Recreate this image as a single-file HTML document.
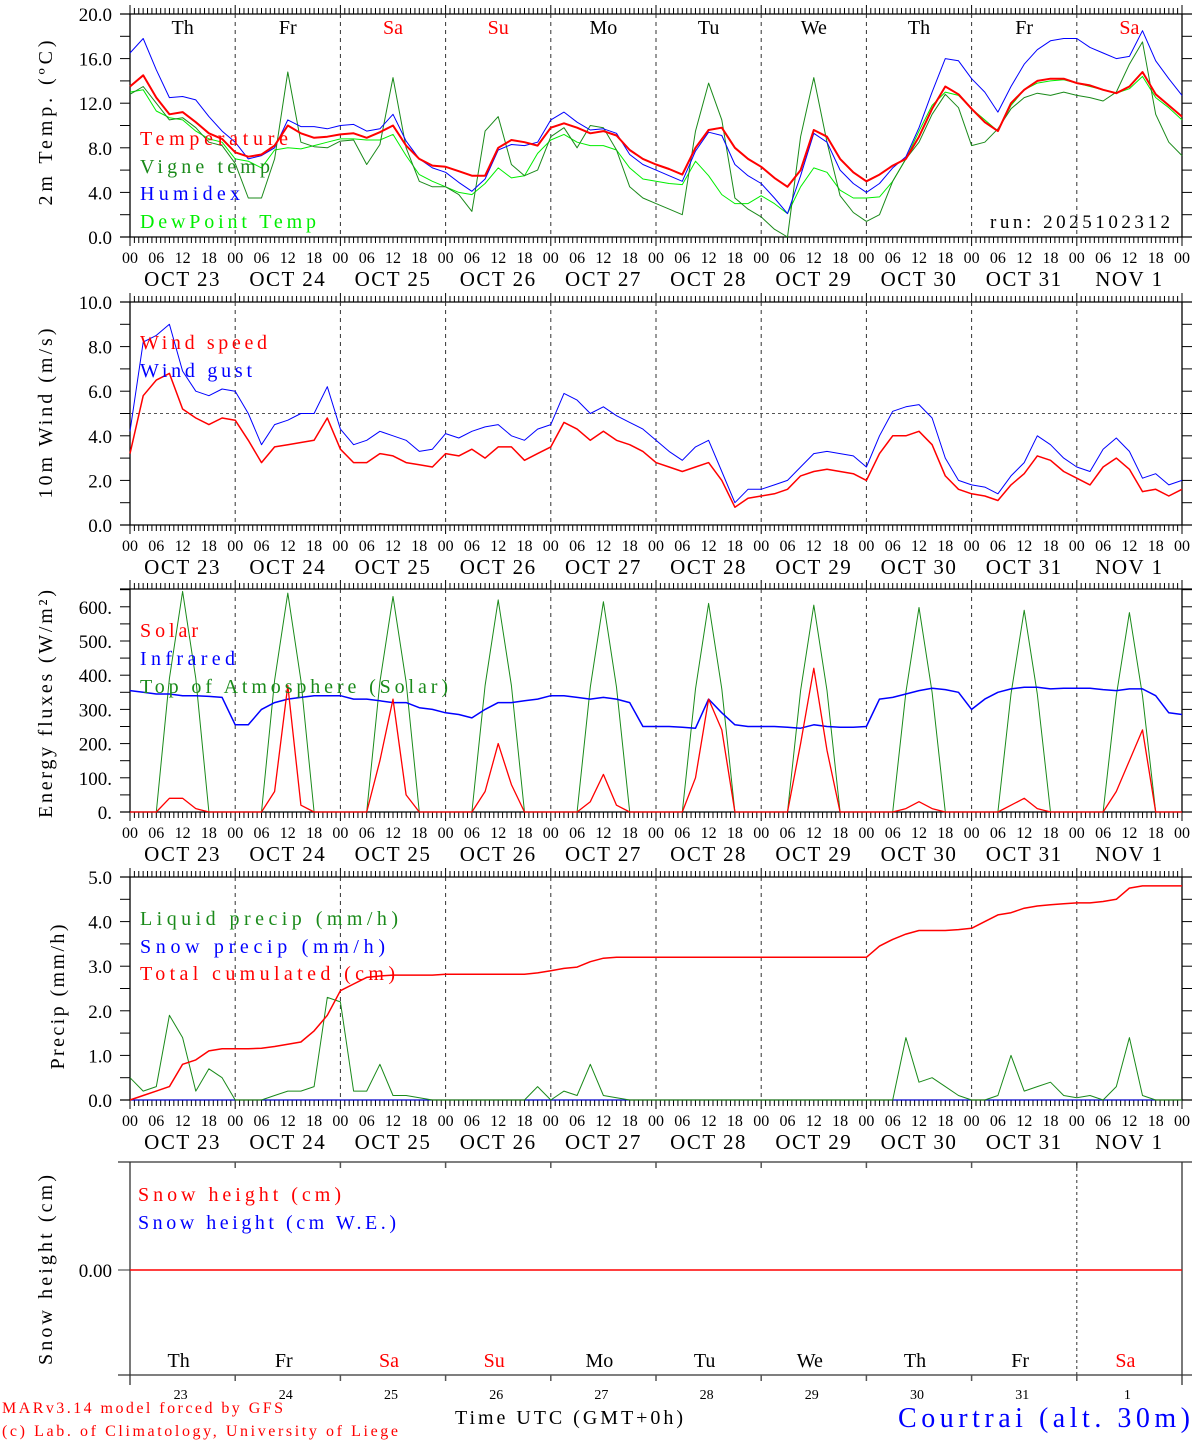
<!DOCTYPE html>
<html><head><meta charset="utf-8"><style>
html,body{margin:0;padding:0;background:#fff;}
svg{display:block;font-family:"Liberation Serif","DejaVu Serif",serif;}
</style></head><body>
<svg id="chart" width="1194" height="1440" viewBox="0 0 1194 1440" xmlns="http://www.w3.org/2000/svg"></svg>
<script>
// ---- data (3-hourly, Oct 23 00 UTC to Nov 2 00 UTC) ----
const dayNames=["Th","Fr","Sa","Su","Mo","Tu","We","Th","Fr","Sa"];
const dateLabels=["OCT 23","OCT 24","OCT 25","OCT 26","OCT 27","OCT 28","OCT 29","OCT 30","OCT 31","NOV  1"];
const dayNums=["23","24","25","26","27","28","29","30","31","1"];
const hourLabels=["00","06","12","18"];
const temp=[13.5,14.5,12.5,11.0,11.2,10.3,9.3,8.8, 7.6,7.2,7.4,8.2,10.0,9.3,8.9,9.0, 9.2,9.3,8.9,9.4,10.0,8.2,7.0,6.4, 6.3,5.9,5.5,5.5,8.0,8.7,8.5,8.2, 9.8,10.2,9.8,9.3,9.5,9.1,7.8,7.0, 6.5,6.1,5.6,8.0,9.6,9.8,8.0,7.0, 6.3,5.3,4.5,6.0,9.6,9.0,7.0,5.8, 5.0,5.6,6.4,7.0,9.0,11.5,13.5,12.8, 11.5,10.3,9.5,12.0,13.2,14.0,14.2,14.2, 13.8,13.6,13.2,12.9,13.5,14.8,12.8,11.8,10.8];
const vigne=[12.8,13.5,12.0,10.5,10.7,9.8,8.5,8.2, 6.6,3.5,3.5,7.0,14.8,8.5,8.1,8.0, 8.6,8.7,6.5,8.3,14.3,8.0,5.0,4.5, 4.5,3.8,2.3,9.5,10.8,6.5,5.5,6.0, 9.0,9.8,8.0,10.0,9.8,7.8,4.5,3.5, 3.0,2.5,2.0,9.5,13.8,10.5,3.5,2.5, 1.8,0.7,0.0,9.0,14.3,8.5,3.7,2.2, 1.4,2.0,5.0,7.0,8.5,11.0,12.8,11.6, 8.2,8.5,9.7,11.5,12.5,12.9,12.7,13.0, 12.7,12.5,12.2,13.0,15.5,17.5,11.0,8.5,7.3];
const humidex=[16.5,17.8,15.0,12.5,12.6,12.3,10.8,9.5, 8.5,7.0,7.3,8.0,10.5,9.9,9.9,9.7, 10.0,10.1,9.5,9.7,11.0,8.6,7.0,6.2, 5.8,4.9,4.1,5.2,7.8,8.3,8.2,8.5, 10.5,11.2,10.3,9.6,9.7,9.3,7.4,6.5, 6.0,5.5,5.0,7.7,9.4,9.1,6.5,5.5, 4.8,3.5,2.1,5.5,9.3,8.5,6.0,4.8, 4.0,4.8,6.2,7.2,9.8,13.0,16.0,15.8, 14.2,13.0,11.2,13.5,15.5,16.8,17.6,17.8, 17.8,17.0,16.5,16.0,16.2,18.5,15.8,14.2,12.7];
const dewpoint=[13.0,13.2,11.3,10.7,10.5,9.5,8.8,8.5, 7.0,6.8,6.2,7.8,8.0,7.9,8.2,8.5, 8.8,8.8,8.7,8.7,9.2,7.3,5.6,5.0, 4.5,4.0,3.8,4.8,6.2,5.3,5.5,7.5, 8.7,9.2,8.5,8.2,8.2,7.8,6.2,5.2, 5.0,4.8,4.7,6.8,5.5,3.8,3.0,3.0, 3.7,3.0,2.1,4.5,6.2,5.8,4.2,3.5, 3.5,3.6,5.0,7.0,9.5,11.8,13.0,12.7, 11.5,10.5,9.5,11.8,13.2,13.8,14.0,14.1, 13.8,13.5,13.2,12.9,13.3,14.4,12.5,11.6,10.5];
const windSpeed=[3.2,5.8,6.5,6.8,5.2,4.8,4.5,4.8, 4.7,3.8,2.8,3.5,3.6,3.7,3.8,4.8, 3.4,2.8,2.8,3.2,3.1,2.8,2.7,2.6, 3.2,3.1,3.4,3.0,3.5,3.5,2.9,3.2, 3.5,4.6,4.3,3.8,4.2,3.8,3.6,3.3, 2.8,2.6,2.4,2.6,2.8,2.0,0.8,1.2, 1.3,1.4,1.6,2.2,2.4,2.5,2.4,2.3, 2.0,3.2,4.0,4.0,4.2,3.6,2.2,1.6, 1.4,1.3,1.1,1.8,2.3,3.1,2.9,2.4, 2.1,1.8,2.6,3.0,2.5,1.5,1.6,1.3,1.6];
const windGust=[4.2,8.2,8.5,9.0,6.9,6.0,5.8,6.1, 6.0,5.0,3.6,4.5,4.7,5.0,5.0,6.2, 4.3,3.6,3.8,4.2,4.0,3.8,3.3,3.4, 4.1,3.9,4.2,4.4,4.5,4.0,3.8,4.3, 4.5,5.9,5.6,5.0,5.3,4.9,4.6,4.3, 3.8,3.3,2.9,3.5,3.8,2.4,1.0,1.6, 1.6,1.8,2.0,2.6,3.2,3.3,3.2,3.1, 2.6,4.0,5.1,5.3,5.4,4.8,3.0,2.0, 1.8,1.7,1.4,2.2,2.8,4.0,3.6,3.0, 2.6,2.4,3.4,3.9,3.3,2.1,2.3,1.8,2.0];
const solar=[0,0,0,40,40,10,0,0, 0,0,0,60,370,20,0,0, 0,0,0,150,330,50,0,0, 0,0,0,60,200,80,0,0, 0,0,0,30,110,20,0,0, 0,0,0,100,330,240,0,0, 0,0,0,200,420,180,0,0, 0,0,0,10,30,10,0,0, 0,0,0,20,40,10,0,0, 0,0,0,60,150,240,0,0,0];
const infrared=[355,350,345,345,340,340,338,335, 255,255,300,320,330,335,340,340, 340,330,330,325,320,320,305,300, 290,285,275,300,320,320,325,330, 340,340,335,330,335,330,320,250, 250,250,248,245,330,290,255,250, 250,250,248,245,255,250,248,248, 250,330,335,345,355,362,358,350, 300,330,350,360,365,365,360,362, 362,362,358,355,360,360,340,290,285];
const toaSolar=[0,0,0,390,645,390,0,0, 0,0,0,385,640,385,0,0, 0,0,0,380,630,380,0,0, 0,0,0,370,620,370,0,0, 0,0,0,365,615,365,0,0, 0,0,0,360,610,360,0,0, 0,0,0,355,605,355,0,0, 0,0,0,350,598,350,0,0, 0,0,0,345,590,345,0,0, 0,0,0,340,583,340,0,0,0];
const liquidPrecip=[0.5,0.2,0.3,1.9,1.4,0.2,0.7,0.5, 0,0,0,0.1,0.2,0.2,0.3,2.3, 2.2,0.2,0.2,0.8,0.1,0.1,0.05,0, 0,0,0,0,0,0,0,0.3, 0,0.2,0.1,0.8,0.1,0.05,0,0, 0,0,0,0,0,0,0,0, 0,0,0,0,0,0,0,0, 0,0,0,1.4,0.4,0.5,0.3,0.1, 0,0,0.1,1.0,0.2,0.3,0.4,0.1, 0.05,0.1,0,0.3,1.4,0.1,0,0,0];
const snowPrecip=new Array(81).fill(0);
const totalCum=[0,0.1,0.2,0.3,0.8,0.9,1.1,1.15, 1.15,1.15,1.16,1.2,1.25,1.3,1.55,1.9, 2.45,2.6,2.75,2.78,2.8,2.8,2.8,2.8, 2.82,2.82,2.82,2.82,2.82,2.82,2.82,2.85, 2.9,2.95,2.98,3.1,3.18,3.2,3.2,3.2, 3.2,3.2,3.2,3.2,3.2,3.2,3.2,3.2, 3.2,3.2,3.2,3.2,3.2,3.2,3.2,3.2, 3.2,3.45,3.6,3.72,3.8,3.8,3.8,3.82, 3.85,4.0,4.15,4.2,4.3,4.35,4.38,4.4, 4.42,4.42,4.45,4.5,4.75,4.8,4.8,4.8,4.8];
const snowHeight=new Array(81).fill(0);

// ---- drawing ----
const svg=document.getElementById('chart');
const NS='http://www.w3.org/2000/svg';
const X0=130,X1=1182,HOURS=240;
function xh(h){return X0+h*(X1-X0)/HOURS;}
function mk(tag,attrs,parent){const e=document.createElementNS(NS,tag);for(const k in attrs)e.setAttribute(k,attrs[k]);(parent||svg).appendChild(e);return e;}
function txt(s,x,y,size,fill,anchor,name,extra){
  const e=mk('text',Object.assign({x:x,y:y,'font-size':size,fill:fill||'#000','text-anchor':anchor||'start'},extra||{}));
  e.textContent=s;
  
  
  return e;
}
function wtxt(s,x,y,size,fill,anchor,name,len,extra){
  return txt(s,x,y,size,fill,anchor,name,Object.assign({textLength:len,lengthAdjust:'spacing'},extra||{}));
}
function line(x1,y1,x2,y2,stroke,w,name,dash){
  const e=mk('line',{x1:x1,y1:y1,x2:x2,y2:y2,stroke:stroke,'stroke-width':w});
  if(dash)e.setAttribute('stroke-dasharray',dash);
  
  
  return e;
}
function series(vals,ys,color,w,name){
  let d='';
  vals.forEach((v,i)=>{d+=(i?'L':'M')+xh(i*3).toFixed(1)+','+ys(v).toFixed(1);});
  const p=mk('path',{d:d,fill:'none',stroke:color,'stroke-width':w,'stroke-linejoin':'round'});
  
  
  return p;
}
function panel(o){
  const ys=v=>o.bottom-(v-o.min)*(o.bottom-o.top)/(o.max-o.min);
  line(X0,o.top,X0,o.bottom,'#000',1.3,o.id+'-left-axis');
  line(X1,o.top,X1,o.bottom,'#000',1.3,o.id+'-right-axis');
  line(X0-10,o.top,X1+10,o.top,'#000',1.3,o.id+'-top-axis');
  line(X0-10,o.bottom,X1+10,o.bottom,'#000',1.3,o.id+'-bottom-axis');
  for(let v=o.min;v<=o.max+1e-9;v+=o.tickStep){
    const y=ys(v);
    line(X0-10,y,X0,y,'#000',1,o.id+'-y-tick');
    line(X1,y,X1+10,y,'#000',1,o.id+'-y-tick');
  }
  for(let v=o.min;v<=o.labelMax+1e-9;v+=o.labelStep){
    txt(o.fmt(v),112,ys(v)+7,19,'#000','end',o.id+'-y-tick-label');
  }
  for(let h=0;h<=HOURS;h++){
    const x=xh(h);const major=h%24===0;
    line(x,o.bottom,x,o.bottom+(major?9:6),'#000',1,o.id+'-x-tick');
    line(x,o.top,x,o.top-(major?9:6),'#000',1,o.id+'-x-tick');
  }
  for(let d=1;d<10;d++){line(xh(d*24),o.top,xh(d*24),o.bottom,'#333',1,o.id+'-day-divider','4,4');}
  for(let d=0;d<=10;d++){
    for(let k=0;k<4;k++){
      if(d===10&&k>0)break;
      txt(hourLabels[k],xh(d*24+k*6),o.bottom+26,16,'#000','middle',o.id+'-hour-label');
    }
  }
  for(let d=0;d<10;d++){
    txt(dateLabels[d],xh(d*24+12),o.bottom+49,21,'#000','middle',o.id+'-date-label',{'xml:space':'preserve','letter-spacing':'1.5'});
  }
  const cy=o.titleY||(o.top+o.bottom)/2;
  wtxt(o.title,o.titleX,cy,20,'#000','middle',o.id+'-y-axis-title',o.titleLen,{transform:'rotate(-90 '+o.titleX+' '+cy+')'});
  return ys;
}
const f1=v=>v.toFixed(1);
// Panel 1 temperature
const y1=panel({id:'temp-panel',top:14,bottom:237,min:0,max:20,tickStep:2,labelStep:4,labelMax:20,fmt:f1,title:'2m Temp. (\u00baC)',titleX:52,titleY:123,titleLen:165});
dayNames.forEach((n,d)=>{txt(n,xh(d*24+12),34,20,(n==='Sa'||n==='Su')?'#ff0000':'#000','middle','day-name-top');});
series(dewpoint,y1,'#00ee00',1,'dewpoint-line');
series(vigne,y1,'#1a8a1a',1,'vigne-temp-line');
series(humidex,y1,'#0000ff',1,'humidex-line');
series(temp,y1,'#ff0000',2,'temperature-line');
wtxt('Temperature',140,145,20,'#ff0000','start','legend-temperature',148);
wtxt('Vigne temp',140,173,20,'#1a8a1a','start','legend-vigne-temp',130);
wtxt('Humidex',140,200,20,'#0000ff','start','legend-humidex',100);
wtxt('DewPoint Temp',140,228,20,'#00ee00','start','legend-dewpoint',176);
wtxt('run: 2025102312',1170,228,19,'#000','end','run-label',180);
// Panel 2 wind
const y2=panel({id:'wind-panel',top:302,bottom:525,min:0,max:10,tickStep:1,labelStep:2,labelMax:10,fmt:f1,title:'10m Wind (m/s)',titleX:52,titleLen:170});
line(X0,y2(5),X1,y2(5),'#555',1,'wind-threshold-line','3,3');
series(windGust,y2,'#0000ff',1,'wind-gust-line');
series(windSpeed,y2,'#ff0000',1.5,'wind-speed-line');
wtxt('Wind speed',140,349,20,'#ff0000','start','legend-wind-speed',127);
wtxt('Wind gust',140,377,20,'#0000ff','start','legend-wind-gust',112);
// Panel 3 energy
const y3=panel({id:'energy-panel',top:589,bottom:812,min:0,max:652,tickStep:50,labelStep:100,labelMax:600,fmt:v=>Math.round(v)+'.',title:'Energy fluxes (W/m\u00b2)',titleX:52,titleY:704,titleLen:228});
series(toaSolar,y3,'#1a8a1a',1,'toa-solar-line');
series(infrared,y3,'#0000ff',1.5,'infrared-line');
series(solar,y3,'#ff0000',1.3,'solar-line');
wtxt('Solar',140,637,20,'#ff0000','start','legend-solar',58);
wtxt('Infrared',140,665,20,'#0000ff','start','legend-infrared',95);
wtxt('Top of Atmosphere (Solar)',140,693,20,'#1a8a1a','start','legend-toa',308);
// Panel 4 precip
const y4=panel({id:'precip-panel',top:877,bottom:1100,min:0,max:5,tickStep:0.5,labelStep:1,labelMax:5,fmt:f1,title:'Precip (mm/h)',titleX:64,titleY:997,titleLen:145});
series(snowPrecip,y4,'#0000ff',1,'snow-precip-line');
series(liquidPrecip,y4,'#1a8a1a',1,'liquid-precip-line');
series(totalCum,y4,'#ff0000',1.5,'total-cumulated-line');
wtxt('Liquid precip (mm/h)',140,925,20,'#1a8a1a','start','legend-liquid',258);
wtxt('Snow precip (mm/h)',140,953,20,'#0000ff','start','legend-snow-precip',245);
wtxt('Total cumulated (cm)',140,980,20,'#ff0000','start','legend-total',255);
// Panel 5 snow height
const P5T=1162,P5B=1375;
const y5=v=>1270-v*100;
line(X0,P5T,X0,P5B+10,'#333',1.3,'snow-left-axis');
line(X1,P5T,X1,P5B+10,'#333',1.3,'snow-right-axis');
line(118,P5T,X1+10,P5T,'#333',1.3,'snow-top-axis');
line(118,P5B,X1+10,P5B,'#333',1.3,'snow-bottom-axis');
line(118,1270,X0,1270,'#333',1,'snow-y-tick');
txt('0.00',112,1277,19,'#000','end','snow-y-tick-label');
for(let d=1;d<10;d++){const x=xh(d*24);line(x,P5T,x,P5T+6,'#555',1.5,'snow-top-tick');line(x,P5B,x,P5B+6,'#555',1.5,'snow-bottom-tick');}
line(xh(216),P5T,xh(216),P5B,'#333',1,'snow-day-divider','3,3');
series(snowHeight,y5,'#ff0000',1.5,'snow-height-line');
dayNames.forEach((n,d)=>{txt(n,xh(d*24+12)-4,1367,20,(n==='Sa'||n==='Su')?'#ff0000':'#000','middle','day-name-bottom');});
dayNums.forEach((n,d)=>{txt(n,xh(d*24+12)-2,1399,14,'#000','middle','day-number');});
wtxt('Snow height (cm)',138,1201,20,'#ff0000','start','legend-snow-height',203);
wtxt('Snow height (cm W.E.)',138,1229,20,'#0000ff','start','legend-snow-we',258);
wtxt('Snow height (cm)',52,1270,20,'#000','middle','snow-y-axis-title',190,{transform:'rotate(-90 52 1270)'});
// footer
wtxt('Time UTC (GMT+0h)',455,1424,20,'#000','start','x-axis-title',228);
wtxt('MARv3.14 model forced by GFS',2,1413,16,'#ff0000','start','model-credit',281);
wtxt('(c) Lab. of Climatology, University of Liege',2,1436,16,'#ff0000','start','lab-credit',396);
wtxt('Courtrai (alt. 30m)',1190,1427,28,'#0000ff','end','location-title',292);
</script>
</body></html>
